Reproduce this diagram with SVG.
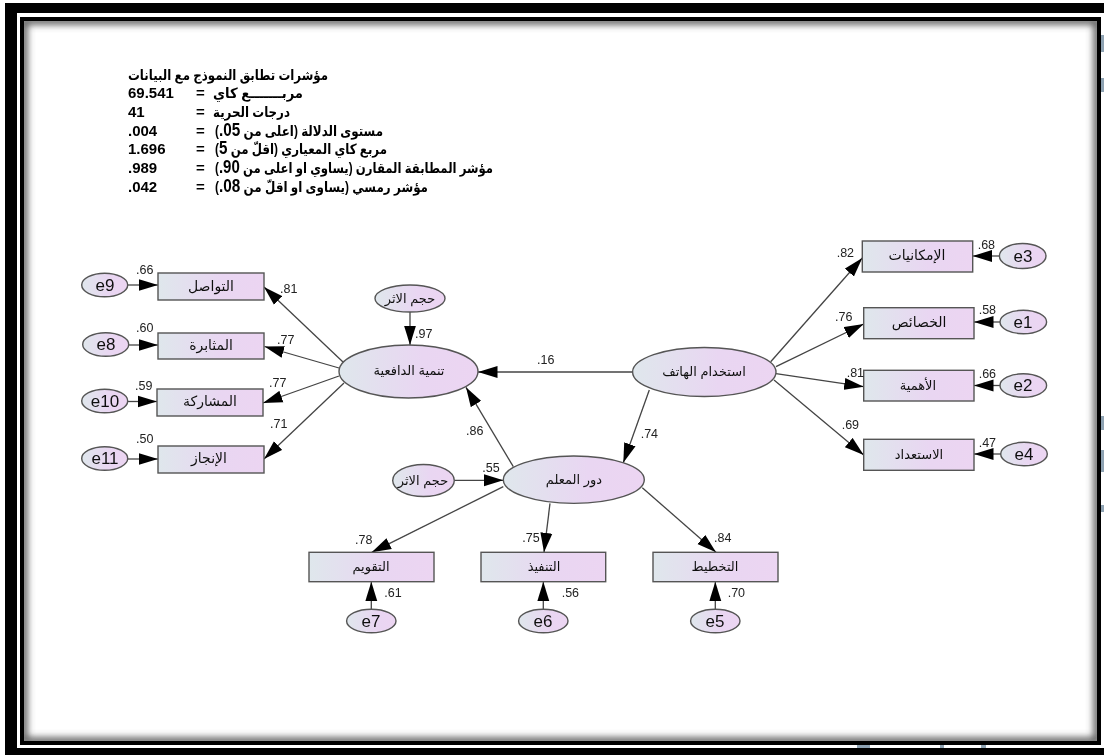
<svg xmlns="http://www.w3.org/2000/svg" width="1104" height="755" viewBox="0 0 1104 755">
<style>
.n{fill:url(#g);stroke:#555;stroke-width:1.4}
.c{stroke:#444;stroke-width:1.3;fill:none;marker-end:url(#a)}
.l{font:12.5px "Liberation Sans","DejaVu Sans",sans-serif;fill:#222}
.t{font:13px "Liberation Sans","DejaVu Sans",sans-serif;fill:#111;text-anchor:middle;direction:rtl}
.u{font-size:14px}
.e{font:17px "Liberation Sans",sans-serif;fill:#111;text-anchor:middle}
.h{font:bold 14px "Liberation Sans","DejaVu Sans",sans-serif;fill:#000;direction:rtl;text-anchor:start}
.d{font-size:18px}
.v{font:bold 15px "Liberation Sans",sans-serif;fill:#000}
</style>
<defs>
<linearGradient id="g" x1="0" x2="1" y1="0" y2="0"><stop offset="0" stop-color="#dfe7ec"/><stop offset=".6" stop-color="#e9d6f2"/><stop offset="1" stop-color="#ecd5f2"/></linearGradient>
<marker id="a" markerUnits="userSpaceOnUse" markerWidth="20" markerHeight="13" refX="19.500" refY="6.500" orient="auto"><path d="M0 0.500L19.500 6.500L0 12.500Z" fill="#000"/></marker>
<filter id="b" x="-5%" y="-5%" width="110%" height="110%"><feGaussianBlur stdDeviation="3.500"/></filter>
<filter id="s" x="-2%" y="-2%" width="104%" height="104%"><feGaussianBlur stdDeviation="0.35"/></filter>
<clipPath id="f"><rect x="24" y="21" width="1073" height="720"/></clipPath>
</defs>
<rect width="1104" height="755" fill="#fff"/>
<g id="frame">
<g clip-path="url(#f)"><rect x="24" y="21" width="1073" height="720" fill="none" stroke="#555" stroke-width="7" filter="url(#b)"/></g>
<rect x="22" y="19" width="1077" height="724" fill="none" stroke="#000" stroke-width="4"/>
<path d="M1101 35h3v17h-3zM1101 78h3v14h-3zM1101 416h3v14h-3zM1101 450h3v22h-3zM1101 505h3v7h-3zM857 745h13v3h-13zM940 745h4v3h-4zM981 745h5v3h-5z" fill="#8fa3b3"/>
<path d="M5 3H1104V13H17V748H1104V755H5Z" fill="#000"/>
</g>
<g filter="url(#s)">
<g id="fit-indices">
<text class="h" x="328" y="80" textLength="200" lengthAdjust="spacingAndGlyphs">مؤشرات تطابق النموذج مع البيانات</text>
<text class="h" x="303" y="98" textLength="90" lengthAdjust="spacingAndGlyphs">مربـــــــع كاي</text><text class="v" x="196" y="98">=</text><text class="v" x="128" y="98">69.541</text>
<text class="h" x="290" y="117" textLength="77" lengthAdjust="spacingAndGlyphs">درجات الحرية</text><text class="v" x="196" y="117">=</text><text class="v" x="128" y="117">41</text>
<text class="h" x="383" y="136" textLength="168" lengthAdjust="spacingAndGlyphs">مستوى الدلالة (اعلى من <tspan class="d">05.</tspan>)</text><text class="v" x="196" y="136">=</text><text class="v" x="128" y="136">.004</text>
<text class="h" x="387" y="154" textLength="172" lengthAdjust="spacingAndGlyphs">مربع كاي المعياري (اقلّ من <tspan class="d">5</tspan>)</text><text class="v" x="196" y="154">=</text><text class="v" x="128" y="154">1.696</text>
<text class="h" x="493" y="173" textLength="278" lengthAdjust="spacingAndGlyphs">مؤشر المطابقة المقارن (يساوي او اعلى من <tspan class="d">90.</tspan>)</text><text class="v" x="196" y="173">=</text><text class="v" x="128" y="173">.989</text>
<text class="h" x="428" y="192" textLength="213" lengthAdjust="spacingAndGlyphs">مؤشر رمسي (يساوى او اقلّ من <tspan class="d">08.</tspan>)</text><text class="v" x="196" y="192">=</text><text class="v" x="128" y="192">.042</text>
</g>
<g id="connectors">
<path class="c" d="M632.7 372H478"/>
<path class="c" d="M649.3 390L623.3 462.7"/>
<path class="c" d="M513.3 466.7L466 387.3"/>
<path class="c" d="M410 312V345"/>
<path class="c" d="M454.3 480.3H503.3"/>
<path class="c" d="M343 362L264 287"/>
<path class="c" d="M339 368L264.500 346.500"/>
<path class="c" d="M339 376L263 403"/>
<path class="c" d="M344 383L264 459"/>
<path class="c" d="M128 285H158"/>
<path class="c" d="M129 345H158"/>
<path class="c" d="M128 401.500H157"/>
<path class="c" d="M128 459H158"/>
<path class="c" d="M770.700 361.700L862.300 258"/>
<path class="c" d="M776 366.700L863.700 324"/>
<path class="c" d="M776 373.700L863.700 386.700"/>
<path class="c" d="M774 380L863.700 455"/>
<path class="c" d="M999.300 256H972.700"/>
<path class="c" d="M1000 322H974"/>
<path class="c" d="M1000 385.500H974"/>
<path class="c" d="M1001 454H974"/>
<path class="c" d="M503.300 486.700L371.700 552.300"/>
<path class="c" d="M550 503.300L544 552.300"/>
<path class="c" d="M642.300 487.700L716 552.300"/>
<path class="c" d="M371.300 609.300V581.700"/>
<path class="c" d="M543.300 609.300V581.700"/>
<path class="c" d="M715.300 609.300V581.700"/>
</g>
<g id="phone"><ellipse class="n" cx="704.300" cy="372" rx="71.700" ry="24.500"/><text class="t" x="704" y="376">استخدام الهاتف</text></g>
<g id="motivation"><ellipse class="n" cx="408.500" cy="371.500" rx="69.500" ry="26.500"/><text class="t" x="409" y="375">تنمية الدافعية</text></g>
<g id="teacher"><ellipse class="n" cx="573.800" cy="479.700" rx="70.500" ry="23.700"/><text class="t" x="574" y="484">دور المعلم</text></g>
<g id="effect1"><ellipse class="n" cx="410" cy="298.500" rx="35" ry="13.500"/><text class="t" x="410" y="303">حجم الاثر</text></g>
<g id="effect2"><ellipse class="n" cx="423.500" cy="480.500" rx="30.800" ry="16"/><text class="t" x="423" y="485">حجم الاثر</text></g>
<g id="b-tawasul"><rect class="n" x="158" y="273" width="106" height="27"/><text class="t u" x="211" y="291">التواصل</text></g>
<g id="b-muthabara"><rect class="n" x="158" y="333" width="106" height="26"/><text class="t u" x="211" y="350">المثابرة</text></g>
<g id="b-musharaka"><rect class="n" x="157" y="389" width="106" height="27"/><text class="t u" x="210" y="406">المشاركة</text></g>
<g id="b-injaz"><rect class="n" x="158" y="446" width="106" height="27"/><text class="t u" x="209" y="463">الإنجاز</text></g>
<g id="b-imkaniyat"><rect class="n" x="862.300" y="241" width="110.400" height="31"/><text class="t u" x="917" y="260">الإمكانيات</text></g>
<g id="b-khasais"><rect class="n" x="863.700" y="307.700" width="110.300" height="31"/><text class="t u" x="919" y="327">الخصائص</text></g>
<g id="b-ahamiya"><rect class="n" x="863.700" y="370.300" width="110.300" height="30.700"/><text class="t" x="918" y="390">الأهمية</text></g>
<g id="b-istidad"><rect class="n" x="863.700" y="439.300" width="110.300" height="31"/><text class="t" x="919" y="459">الاستعداد</text></g>
<g id="b-taqwim"><rect class="n" x="309" y="552.300" width="125" height="29.400"/><text class="t" x="371" y="571">التقويم</text></g>
<g id="b-tanfidh"><rect class="n" x="481" y="552.300" width="124.700" height="29.400"/><text class="t" x="544" y="571">التنفيذ</text></g>
<g id="b-takhtit"><rect class="n" x="653" y="552.300" width="125" height="29.400"/><text class="t" x="715" y="571">التخطيط</text></g>
<g id="e9"><ellipse class="n" cx="104.700" cy="285" rx="23" ry="11.700"/><text class="e" x="105" y="291">e9</text></g>
<g id="e8"><ellipse class="n" cx="105.700" cy="344.500" rx="23" ry="11.700"/><text class="e" x="106" y="350">e8</text></g>
<g id="e10"><ellipse class="n" cx="104.700" cy="401" rx="23" ry="11.700"/><text class="e" x="105" y="407">e10</text></g>
<g id="e11"><ellipse class="n" cx="104.700" cy="458.500" rx="23" ry="11.700"/><text class="e" x="105" y="464">e11</text></g>
<g id="e3"><ellipse class="n" cx="1022.700" cy="256" rx="23.300" ry="12.500"/><text class="e" x="1023" y="262">e3</text></g>
<g id="e1"><ellipse class="n" cx="1023.300" cy="322" rx="23.300" ry="11.700"/><text class="e" x="1023" y="328">e1</text></g>
<g id="e2"><ellipse class="n" cx="1023.300" cy="385.500" rx="23.300" ry="11.700"/><text class="e" x="1023" y="391">e2</text></g>
<g id="e4"><ellipse class="n" cx="1024" cy="454" rx="23.300" ry="11.700"/><text class="e" x="1024" y="460">e4</text></g>
<g id="e7"><ellipse class="n" cx="371.300" cy="621" rx="24.700" ry="11.700"/><text class="e" x="371" y="627">e7</text></g>
<g id="e6"><ellipse class="n" cx="543.300" cy="621" rx="24.700" ry="11.700"/><text class="e" x="543" y="627">e6</text></g>
<g id="e5"><ellipse class="n" cx="715.300" cy="621" rx="24.700" ry="11.700"/><text class="e" x="715" y="627">e5</text></g>
<g id="labels">
<text class="l" x="136" y="274">.66</text><text class="l" x="280" y="293">.81</text><text class="l" x="415" y="338">.97</text>
<text class="l" x="277" y="344">.77</text><text class="l" x="136" y="332">.60</text><text class="l" x="135" y="390">.59</text>
<text class="l" x="269" y="387">.77</text><text class="l" x="270" y="428">.71</text><text class="l" x="136" y="443">.50</text>
<text class="l" x="466" y="435">.86</text><text class="l" x="537" y="364">.16</text>
<text class="l" x="836.700" y="257">.82</text><text class="l" x="835" y="321">.76</text><text class="l" x="846.700" y="377">.81</text><text class="l" x="841.700" y="429">.69</text>
<text class="l" x="977.700" y="249">.68</text><text class="l" x="978.700" y="314">.58</text><text class="l" x="978.700" y="378">.66</text><text class="l" x="978.700" y="447">.47</text>
<text class="l" x="640.700" y="438">.74</text><text class="l" x="482.300" y="472">.55</text>
<text class="l" x="355" y="544">.78</text><text class="l" x="522.300" y="542">.75</text><text class="l" x="714" y="542">.84</text>
<text class="l" x="384.300" y="597">.61</text><text class="l" x="561.700" y="597">.56</text><text class="l" x="727.700" y="597">.70</text>
</g>
</g>
</svg>
